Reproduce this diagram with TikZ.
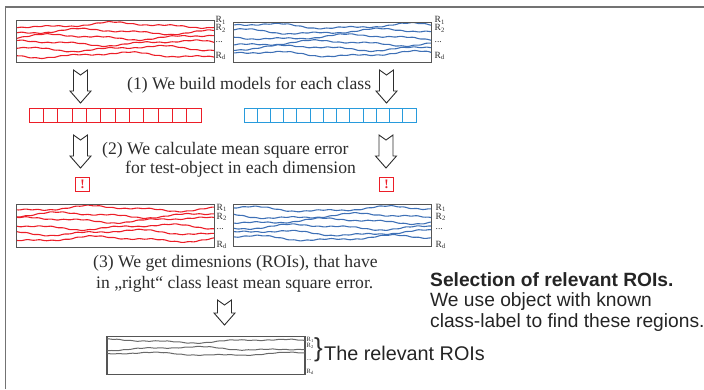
\documentclass[tikz,border=0pt]{standalone}
\usepackage{fontspec}
\setmainfont{Liberation Serif}
\setsansfont{Liberation Sans}
\definecolor{lnred}{RGB}{236,30,40}
\definecolor{lnblue}{RGB}{62,112,182}
\definecolor{cellblue}{RGB}{40,155,220}
\definecolor{lngray}{RGB}{105,105,105}
\definecolor{boxgray}{RGB}{85,85,85}
\definecolor{txtgray}{RGB}{45,45,45}
\definecolor{framegray}{RGB}{115,115,115}
\newcommand\mywave[6][1]{%
  \draw[#6] plot[domain=#2:#3, samples=120, variable=\t]
    (\t, {#4 + #1*(2.1*sin(2.3*\t+#5) + 1.1*sin(5.7*\t+2.7*#5) + 0.35*sin(29*\t+5*#5))});}
\newcommand\hollowarrow[4]{%
  \draw[arrowline] (#1-7,#2) -- (#1,#2+5) -- (#1+7,#2) -- (#1+7,#4) -- (#1+10.5,#4)
    -- (#1,#3) -- (#1-10.5,#4) -- (#1-7,#4) -- cycle;}
\tikzset{
  databox/.style={draw=boxgray, line width=1.1pt, inner sep=0pt, outer sep=0pt},
  redcell/.style={draw=lnred, line width=0.9pt, inner sep=0pt, outer sep=0pt, minimum height=14pt},
  bluecell/.style={draw=cellblue, line width=0.9pt, inner sep=0pt, outer sep=0pt, minimum height=14pt},
  arrowline/.style={draw=txtgray, line width=0.9pt, fill=white},
  redwave/.style={lnred, line width=1.1pt},
  bluewave/.style={lnblue, line width=1.1pt},
  graywave/.style={lngray, line width=1.0pt},
  serif/.style={font=\fontsize{17.6}{20}\selectfont, text=txtgray, inner sep=0pt, anchor=base west},
  sans/.style={font=\sffamily\fontsize{19.2}{21}\selectfont, text=txtgray!80!black, inner sep=0pt, anchor=base west},
  rlab/.style={font=\fontsize{9.5}{9.5}\selectfont, text=txtgray, inner sep=0pt, anchor=west},
  rlabs/.style={font=\fontsize{6.5}{6.5}\selectfont, text=txtgray, inner sep=0pt, anchor=west},
}
\begin{document}
\begin{tikzpicture}[x=1pt,y=-1pt]
\useasboundingbox (0,0) rectangle (704,389);
% frame
\draw[framegray, line width=1.4pt] (5.5,389) -- (5.5,7) -- (704,7);

% ---------- row 1 ----------
\node[databox, minimum width=197.5pt, minimum height=42pt] (ra) at (115.5,41.5) {};
\node[databox, minimum width=197.5pt, minimum height=40.5pt] (ba) at (332.3,42.5) {};
\begin{scope}
\clip (ra.south west) rectangle (ra.north east);
\mywave{17}{214}{25}{0}{redwave}
\mywave{17}{214}{31.5}{70}{redwave}
\mywave{17}{214}{37}{140}{redwave}
\mywave{17}{214}{43}{210}{redwave}
\mywave{17}{214}{48.5}{280}{redwave}
\mywave{17}{214}{55}{350}{redwave}
\end{scope}
\begin{scope}
\clip (ba.south west) rectangle (ba.north east);
\mywave{234}{431}{26}{35}{bluewave}
\mywave{234}{431}{31.5}{105}{bluewave}
\mywave{234}{431}{37}{175}{bluewave}
\mywave{234}{431}{43}{245}{bluewave}
\mywave{234}{431}{48}{315}{bluewave}
\mywave{234}{431}{54}{25}{bluewave}
\end{scope}
\node[databox, minimum width=197.5pt, minimum height=42pt] at (ra) {};
\node[databox, minimum width=197.5pt, minimum height=40.5pt] at (ba) {};
\node[rlab] (l1a) at (215.5,20.5) {R\textsubscript{1}};
\node[rlab] (l2a) at (215.5,28.5) {R\textsubscript{2}};
\node[rlab] (l3a) at (215.5,42) {...};
\node[rlab] (l4a) at (215.5,56) {R\textsubscript{d}};
\node[rlab] (m1a) at (434.5,20.5) {R\textsubscript{1}};
\node[rlab] (m2a) at (434.5,28.5) {R\textsubscript{2}};
\node[rlab] (m3a) at (434.5,42) {...};
\node[rlab] (m4a) at (434.5,56) {R\textsubscript{d}};

% arrows (1)
\hollowarrow{80.5}{70}{103}{91}
\hollowarrow{386.5}{70}{103}{91}
\node[serif] (t1) at (127,89) {(1) We build models for each class};

% cells
\foreach \i in {0,...,11} {
  \node[redcell, minimum width=14.33pt] (rc\i) at ({29+14.33*\i+7.17},115) {};
}
\foreach \i in {0,...,12} {
  \node[bluecell, minimum width=13.23pt] (bc\i) at ({244+13.23*\i+6.62},115) {};
}

% arrows (2)
\hollowarrow{80.5}{135}{168}{156}
\hollowarrow{386}{135}{168}{156}
\node[serif] (t2a) at (102,154.3) {(2) We calculate mean square error};
\node[serif] (t2b) at (125,173.3) {for test-object in each dimension};
\node[redcell, minimum width=14.5pt, text=lnred, font=\bfseries\fontsize{13}{13}\selectfont] (ta) at (82.5,184) {!};
\node[redcell, minimum width=13.5pt, text=lnred, font=\bfseries\fontsize{13}{13}\selectfont] (tb) at (386.5,184) {!};

% ---------- row 2 ----------
\node[databox, minimum width=197.5pt, minimum height=43pt] (rb) at (115.5,225.8) {};
\node[databox, minimum width=198pt, minimum height=42.5pt] (bb) at (332.5,225.5) {};
\begin{scope}
\clip (rb.south west) rectangle (rb.north east);
\mywave{17}{214}{208.5}{50}{redwave}
\mywave{17}{214}{215}{120}{redwave}
\mywave{17}{214}{220}{190}{redwave}
\mywave{17}{214}{227}{260}{redwave}
\mywave{17}{214}{232.5}{330}{redwave}
\mywave{17}{214}{239}{40}{redwave}
\end{scope}
\begin{scope}
\clip (bb.south west) rectangle (bb.north east);
\mywave{233}{432}{209}{85}{bluewave}
\mywave{233}{432}{216}{155}{bluewave}
\mywave{233}{432}{221}{225}{bluewave}
\mywave{233}{432}{227}{295}{bluewave}
\mywave{233}{432}{233}{5}{bluewave}
\mywave{233}{432}{238}{75}{bluewave}
\end{scope}
\node[databox, minimum width=197.5pt, minimum height=43pt] at (rb) {};
\node[databox, minimum width=198pt, minimum height=42.5pt] at (bb) {};
\node[rlab] (l1b) at (216.5,208) {R\textsubscript{1}};
\node[rlab] (l2b) at (216.5,217) {R\textsubscript{2}};
\node[rlab] (l3b) at (216.5,229) {...};
\node[rlab] (l4b) at (216.5,245) {R\textsubscript{d}};
\node[rlab] (m1b) at (435.5,208) {R\textsubscript{1}};
\node[rlab] (m2b) at (435.5,217) {R\textsubscript{2}};
\node[rlab] (m3b) at (435.5,229) {...};
\node[rlab] (m4b) at (435.5,245) {R\textsubscript{d}};

% text (3)
\node[serif] (t3a) at (93,267.3) {(3) We get dimesnions (ROIs), that have};
\node[serif] (t3b) at (96,288.3) {in „right“ class least mean square error.};
\hollowarrow{224.5}{300}{325}{313}

% ---------- bottom ----------
\node[databox, minimum width=198pt, minimum height=37.5pt] (gb) at (206,355.5) {};
\begin{scope}
\clip (gb.south west) rectangle (gb.north east);
\mywave[0.7]{107}{305}{341}{15}{graywave}
\mywave[0.7]{107}{305}{348.5}{200}{graywave}
\mywave[0.6]{107}{305}{354}{300}{graywave}
\end{scope}
\node[rlabs] (g1) at (306.5,339.5) {R\textsubscript{1}};
\node[rlabs] (g2) at (306.5,346) {R\textsubscript{2}};
\node[rlabs] (g3) at (306.5,360) {...};
\node[rlabs] (g4) at (306.5,372) {R\textsubscript{d}};
\node[font=\sffamily\fontsize{26}{26}\selectfont, text=txtgray, inner sep=0pt, anchor=west] (br) at (314,350) {\}};
\node[sans, font=\sffamily\fontsize{19.8}{21}\selectfont] (rel) at (324,360) {The relevant ROIs};

% right caption
\node[sans, font=\sffamily\bfseries\fontsize{19.2}{21}\selectfont] (c1) at (430,286) {Selection of relevant ROIs.};
\node[sans] (c2) at (430,306.5) {We use object with known};
\node[sans] (c3) at (430,327) {class-label to find these regions.};
\end{tikzpicture}
\end{document}
